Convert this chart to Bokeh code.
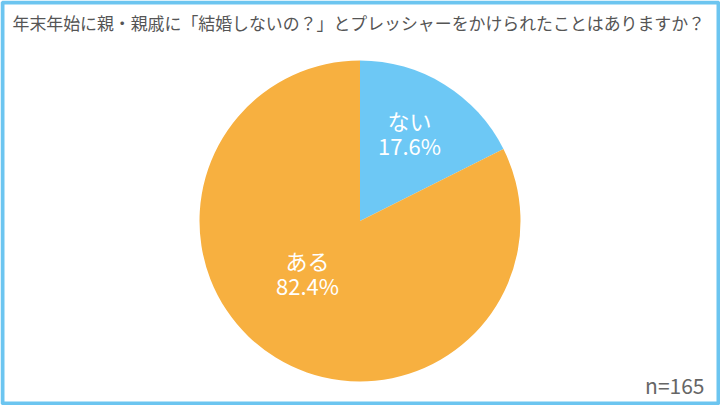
import math
from bokeh.plotting import figure
from bokeh.models import ColumnDataSource
from bokeh.core.properties import value
from bokeh.embed import file_html
from bokeh.resources import INLINE

title = "年末年始に親・親戚に「結婚しないの？」とプレッシャーをかけられたことはありますか？"
categories = ["ない", "ある"]
percents = [17.6, 82.4]
colors = ["#6DC8F5", "#F7B040"]
n_label = "n=165"

W, H = 720, 405
cx, cy, R = 359.5, 405 - 220.5, 160.5

# angles: clockwise from top
starts, ends = [], []
a = math.pi / 2
for v in percents:
    b = a - 2 * math.pi * v / 100.0
    starts.append(b)
    ends.append(a)
    a = b

src = ColumnDataSource(dict(cat=categories, val=percents, start=starts, end=ends, color=colors))

p = figure(width=W, height=H, x_range=(0, W), y_range=(0, H), output_backend="svg",
           toolbar_location=None, min_border=0)
p.axis.visible = False
p.grid.visible = False
p.outline_line_color = None
p.background_fill_color = "white"
p.border_fill_color = "white"

p.wedge(x=cx, y=cy, radius=R, start_angle="start", end_angle="end", color="color",
        line_color=None, source=src)

# frame border
p.rect(x=W / 2, y=H / 2, width=W - 4, height=H - 4, fill_color=None,
       line_color="#6CC5F0", line_width=4)

font = value("Noto Sans CJK JP")
p.text(x=[12], y=[H - 22], text=[title], text_font=font, text_font_size="16.9px",
       text_color="#555555", text_baseline="middle", text_align="left")

# slice label offsets from pie centre (px)
label_dx = [49.5, -52.5]
label_dy = [88.5, -51.5]
for i, c in enumerate(categories):
    lx = cx + label_dx[i]
    ly = cy + label_dy[i]
    p.text(x=[lx], y=[ly + 12.5], text=[c], text_font=font, text_font_size="22px",
           text_color="white", text_baseline="middle", text_align="center")
    p.text(x=[lx], y=[ly - 12.5], text=[f"{percents[i]:.1f}%"], text_font=font,
           text_font_size="22px", text_color="white", text_baseline="middle", text_align="center")

p.text(x=[704], y=[H - 384], text=[n_label], text_font=font, text_font_size="21px",
       text_color="#666666", text_baseline="middle", text_align="right")

open("out.html", "w").write(file_html(p, INLINE))
